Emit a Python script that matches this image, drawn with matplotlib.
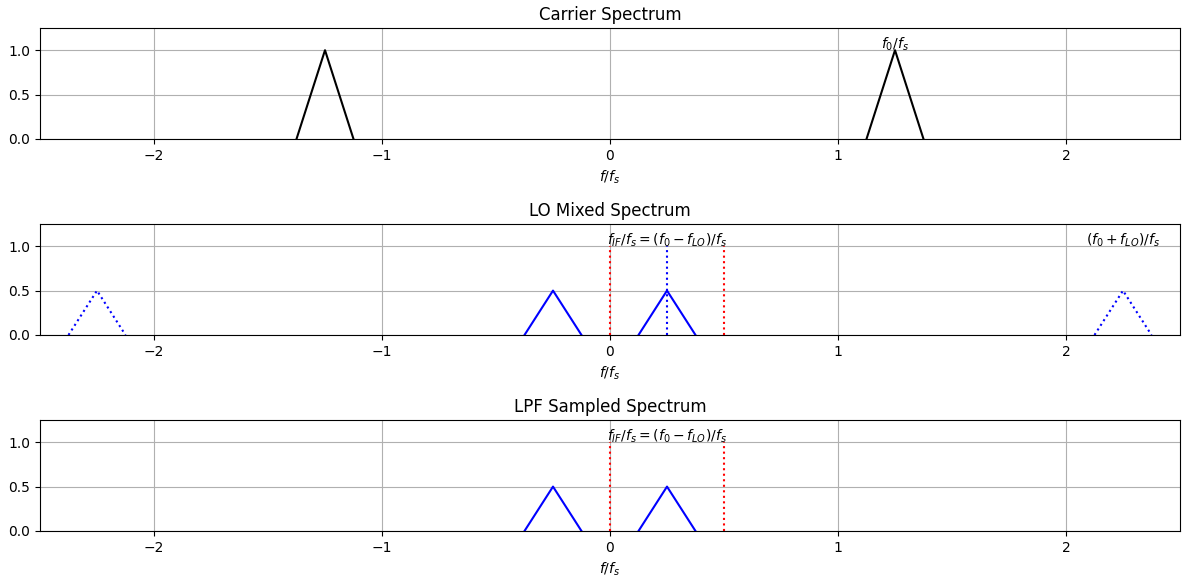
import numpy as np
import matplotlib
matplotlib.use("Agg")
import matplotlib.pyplot as plt

# Data
carrier_centers = [-1.25, 1.25]
carrier_heights = [1.0, 1.0]
half_width = 0.125
if_centers = [-0.25, 0.25]
if_heights = [0.5, 0.5]
image_centers = [-2.25, 2.25]
image_heights = [0.5, 0.5]
nyquist_lines = [0.0, 0.5]
if_line = 0.25
titles = ["Carrier Spectrum", "LO Mixed Spectrum", "LPF Sampled Spectrum"]


def tri(c, h):
    return [c - half_width, c, c + half_width], [0, h, 0]


fig, axes = plt.subplots(3, 1, figsize=(11.9, 5.81), dpi=100)

# Carrier
ax = axes[0]
for c, h in zip(carrier_centers, carrier_heights):
    x, y = tri(c, h)
    ax.plot(x, y, 'k')
ax.text(1.25, 0.97, r'$f_0/f_s$', ha='center', va='bottom')

# LO mixed
ax = axes[1]
for c, h in zip(if_centers, if_heights):
    x, y = tri(c, h)
    ax.plot(x, y, 'b')
for c, h in zip(image_centers, image_heights):
    x, y = tri(c, h)
    ax.plot(x, y, 'b:')
for v in nyquist_lines:
    ax.plot([v, v], [0, 1], 'r:')
ax.plot([if_line, if_line], [0, 1], 'b:')
ax.text(0.25, 0.97, r'$f_{IF}/f_s = (f_0 - f_{LO})/f_s$', ha='center', va='bottom')
ax.text(2.25, 0.97, r'$(f_0 + f_{LO})/f_s$', ha='center', va='bottom')

# LPF sampled
ax = axes[2]
for c, h in zip(if_centers, if_heights):
    x, y = tri(c, h)
    ax.plot(x, y, 'b')
for v in nyquist_lines:
    ax.plot([v, v], [0, 1], 'r:')
ax.text(0.25, 0.97, r'$f_{IF}/f_s = (f_0 - f_{LO})/f_s$', ha='center', va='bottom')

for ax, t in zip(axes, titles):
    ax.set_title(t)
    ax.set_xlim(-2.5, 2.5)
    ax.set_ylim(0, 1.25)
    ax.set_xlabel(r'$f/f_s$')
    ax.grid(True)

fig.subplots_adjust(left=40/1190, right=1180/1190, top=1-28/581, bottom=1-531/581,
                    hspace=85/111)
fig.savefig("out.png")
